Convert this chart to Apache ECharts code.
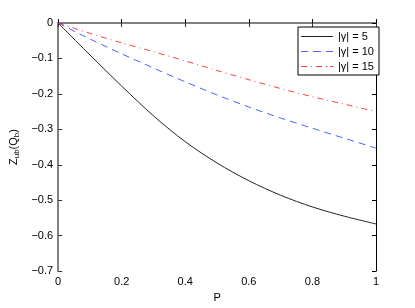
<!DOCTYPE html>
<html>
<head>
<meta charset="utf-8">
<script src="https://cdn.jsdelivr.net/npm/echarts@6/dist/echarts.min.js"></script>
<style>html,body{margin:0;padding:0;background:#fff}#c{width:415px;height:308px}</style>
</head>
<body>
<div id="c"></div>
<script>
const P = [0, 0.1, 0.2, 0.3, 0.4, 0.5, 0.6, 0.7, 0.8, 0.9, 1.0];
const gamma5 = [0, -0.090, -0.178, -0.262, -0.335, -0.395, -0.445, -0.486, -0.519, -0.545, -0.567];
const gamma10 = [0, -0.045, -0.087, -0.127, -0.166, -0.203, -0.237, -0.268, -0.297, -0.325, -0.353];
const gamma15 = [0, -0.029, -0.056, -0.081, -0.107, -0.134, -0.160, -0.185, -0.208, -0.229, -0.250];
const seriesNames = ['|γ| = 5', '|γ| = 10', '|γ| = 15'];
const xTicks = [0, 0.2, 0.4, 0.6, 0.8, 1];
const yTicks = [0, -0.1, -0.2, -0.3, -0.4, -0.5, -0.6, -0.7];

const font = 'Liberation Sans, Arial, Helvetica, sans-serif';
const colors = ['#222', '#4a62ff', '#ff4040'];
const dashes = ['solid', [7, 5], [6, 4, 1, 4]];
// legend sample glyphs (solid, dashed, dash-dot), 32 units wide, 1 unit tall
const legendIcons = [
  'path://M0,0h32v1h-32z',
  'path://M0,0h7v1h-7zM12,0h8v1h-8zM25,0h7v1h-7z',
  'path://M0,0h6v1h-6zM10,0h1v1h-1zM15,0h6v1h-6zM25,0h1v1h-1zM29,0h3v1h-3z'
];
const fmtX = v => { const r = Math.round(v * 10) / 10; return String(r); };
const fmtY = v => { const r = Math.round(v * 10) / 10; return r < 0 ? '\u2212' + String(-r) : String(r); };
const pairs = ys => P.map((p, i) => [p, ys[i]]);

const chart = echarts.init(document.getElementById('c'), null, {renderer: 'canvas'});
chart.setOption({
  animation: false,
  backgroundColor: '#fff',
  grid: {left: 54, right: 39, top: 23, bottom: 35, containLabel: false},
  legend: {
    data: seriesNames.map((n, i) => ({name: n, icon: legendIcons[i], itemStyle: {color: colors[i]}})),
    orient: 'vertical',
    left: 298, top: 27,
    padding: [4, 5, 3, 3],
    itemWidth: 32, itemHeight: 10, itemGap: 4,
    symbolKeepAspect: true,
    backgroundColor: '#fff',
    borderColor: '#000', borderWidth: 1,
    textStyle: {fontFamily: font, fontSize: 11, color: '#000'}
  },
  xAxis: [{
    type: 'value', min: 0, max: 1, interval: 0.2,
    name: 'P', nameLocation: 'middle', nameGap: 14,
    nameTextStyle: {fontFamily: font, fontSize: 11, color: '#000'},
    axisLine: {lineStyle: {color: '#000', width: 1}},
    axisTick: {inside: true, length: 4, lineStyle: {color: '#000'}},
    axisLabel: {fontFamily: font, fontSize: 11, color: '#000', margin: 5, formatter: fmtX},
    splitLine: {show: false}
  }, {
    type: 'value', position: 'top', min: 0, max: 1, interval: 0.2,
    axisLine: {onZero: false, lineStyle: {color: '#808080', width: 2}},
    axisTick: {inside: true, length: 4, lineStyle: {color: '#333'}},
    axisLabel: {show: false},
    splitLine: {show: false}
  }],
  yAxis: [{
    type: 'value', min: -0.7, max: 0, interval: 0.1,
    name: '{n|Z}{s|ub}{n|(Q}{s|b}{n|)}',
    nameLocation: 'middle', nameGap: 19, nameRotate: 90,
    nameTextStyle: {
      fontFamily: font, color: '#000',
      rich: {
        n: {fontFamily: font, fontSize: 11, color: '#000'},
        s: {fontFamily: font, fontSize: 8, color: '#000', verticalAlign: 'bottom', padding: [6, 0, 0, 0]}
      }
    },
    axisLine: {onZero: false, lineStyle: {color: '#808080', width: 2}},
    axisTick: {inside: true, length: 4, lineStyle: {color: '#333'}},
    axisLabel: {fontFamily: font, fontSize: 11, color: '#000', margin: 5, formatter: fmtY},
    splitLine: {show: false}
  }, {
    type: 'value', position: 'right', min: -0.7, max: 0, interval: 0.1,
    axisLine: {show: true, onZero: false, lineStyle: {color: '#000', width: 1}},
    axisTick: {inside: true, length: 4, lineStyle: {color: '#000'}},
    axisLabel: {show: false},
    splitLine: {show: false}
  }],
  series: [{
    name: seriesNames[0], type: 'line', data: pairs(gamma5), smooth: 0.3,
    symbol: 'none', color: colors[0],
    lineStyle: {color: colors[0], width: 1, type: dashes[0]}
  }, {
    name: seriesNames[1], type: 'line', data: pairs(gamma10), smooth: 0.3,
    symbol: 'none', color: colors[1],
    lineStyle: {color: colors[1], width: 1, type: dashes[1]}
  }, {
    name: seriesNames[2], type: 'line', data: pairs(gamma15), smooth: 0.3,
    symbol: 'none', color: colors[2],
    lineStyle: {color: colors[2], width: 1, type: dashes[2]}
  }]
});
</script>
</body>
</html>
